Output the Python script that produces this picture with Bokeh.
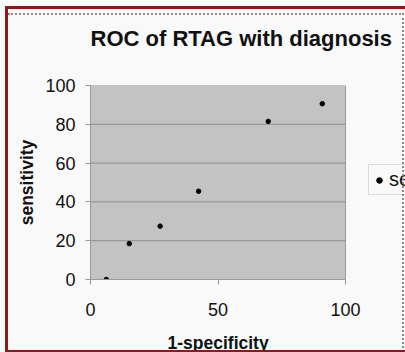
from bokeh.plotting import figure
from bokeh.models import Range1d, Legend, LegendItem, FixedTicker, InlineStyleSheet, Title
from bokeh.embed import file_html
from bokeh.resources import INLINE

# data
one_minus_specificity = [6.2, 15.2, 27.3, 42.4, 69.7, 90.9]
sensitivity = [0.0, 18.5, 27.5, 45.5, 81.5, 90.6]
x_ticks = [0, 50, 100]
y_ticks = [0, 20, 40, 60, 80, 100]
series_name = "sensitivity"
chart_title = "ROC of RTAG with diagnosis"
x_label = "1-specificity"
y_label = "sensitivity"

FONT = "Liberation Sans"
W, H = 405, 352
LEFT, TOP, BOTTOM = 90, 85, 72
PLOT_AREA_W = 255  # pixels that the 0-100 x-axis spans

# the frame runs to the right edge so that the legend sits beside the plot area
x_end = x_ticks[-1] * (W - LEFT) / PLOT_AREA_W

p = figure(width=W, height=H, output_backend="svg", toolbar_location=None, tools="",
           x_range=Range1d(x_ticks[0], x_end), y_range=Range1d(y_ticks[0], y_ticks[-1]),
           min_border_left=LEFT, min_border_right=0, min_border_top=TOP,
           min_border_bottom=BOTTOM,
           background_fill_color="#f8f9f8", border_fill_color="#f8f9f8",
           title=None)

# gap between title and plot area, then the title itself
p.add_layout(Title(text=" ", text_font_size="2px", standoff=31), "above")
p.add_layout(Title(text=chart_title, text_font=FONT, text_font_size="22px",
                   text_font_style="bold", text_color="#111111", align="left",
                   standoff=0), "above")

p.outline_line_color = None
p.xgrid.visible = False
p.ygrid.visible = False

# grey plot area and its horizontal gridlines
p.quad(left=x_ticks[0], right=x_ticks[-1], bottom=y_ticks[0], top=y_ticks[-1],
       fill_color="#c3c3c3", line_color="#9a9a9a", line_width=1)
p.segment(x0=[x_ticks[0]] * (len(y_ticks) - 2), x1=[x_ticks[-1]] * (len(y_ticks) - 2),
          y0=y_ticks[1:-1], y1=y_ticks[1:-1], line_color="#8e8e8e", line_width=1)

for ax in (p.xaxis[0], p.yaxis[0]):
    ax.axis_line_color = "#9a9a9a"
    ax.major_tick_line_color = "#9a9a9a"
    ax.major_tick_out = 5
    ax.major_tick_in = 0
    ax.minor_tick_line_color = None
    ax.major_label_text_font = FONT
    ax.major_label_text_font_size = "18px"
    ax.major_label_text_color = "#111111"
    ax.axis_label_text_font = FONT
    ax.axis_label_text_font_size = "17.5px"
    ax.axis_label_text_font_style = "bold"
    ax.axis_label_text_color = "#111111"

p.xaxis.ticker = FixedTicker(ticks=x_ticks)
p.yaxis.ticker = FixedTicker(ticks=y_ticks)
p.xaxis.bounds = (x_ticks[0], x_ticks[-1])
p.yaxis.axis_label = y_label
p.xaxis.major_label_standoff = 18
p.yaxis.major_label_standoff = 10
p.yaxis.axis_label_standoff = 5

# x-axis title centred under the plot area (not under the wider frame)
p.add_layout(Title(text=" ", text_font_size="2px", standoff=8), "below")
p.add_layout(Title(text=x_label, text_font=FONT, text_font_size="17.5px",
                   text_font_style="bold", text_color="#111111", align="left",
                   offset=77, standoff=0), "below")

r = p.scatter(one_minus_specificity, sensitivity, size=4.5, marker="circle",
              color="#000000")

legend = Legend(items=[LegendItem(label=series_name, renderers=[r])],
                location=(278, 84), orientation="vertical",
                label_text_font=FONT, label_text_font_size="20px",
                label_text_color="#111111",
                border_line_color="#c0c0c0", background_fill_color="#f8f9f8",
                glyph_width=14, glyph_height=20, label_standoff=3,
                padding=3, margin=0, label_height=20)
p.add_layout(legend, "center")

# page decoration: dark red outer frame and the dotted chart-area border
p.stylesheets = [InlineStyleSheet(css="""
:host { position: relative; }
:host::before {
  content: ""; position: absolute; left: 8px; top: 13px; right: 1px; bottom: -4px;
  border-top: 2px dotted #8a8a80; border-right: 2px dotted #8a8a80;
  pointer-events: none; z-index: 5;
}
:host::after {
  content: ""; position: absolute; left: 5px; top: 6px; right: 0px; bottom: 0px;
  border-left: 3px solid #8b1a1a; border-top: 3px solid #8b1a1a;
  border-bottom: 2px solid #8b1a1a;
  pointer-events: none; z-index: 6;
}
""")]

open("out.html", "w").write(file_html(p, INLINE))
